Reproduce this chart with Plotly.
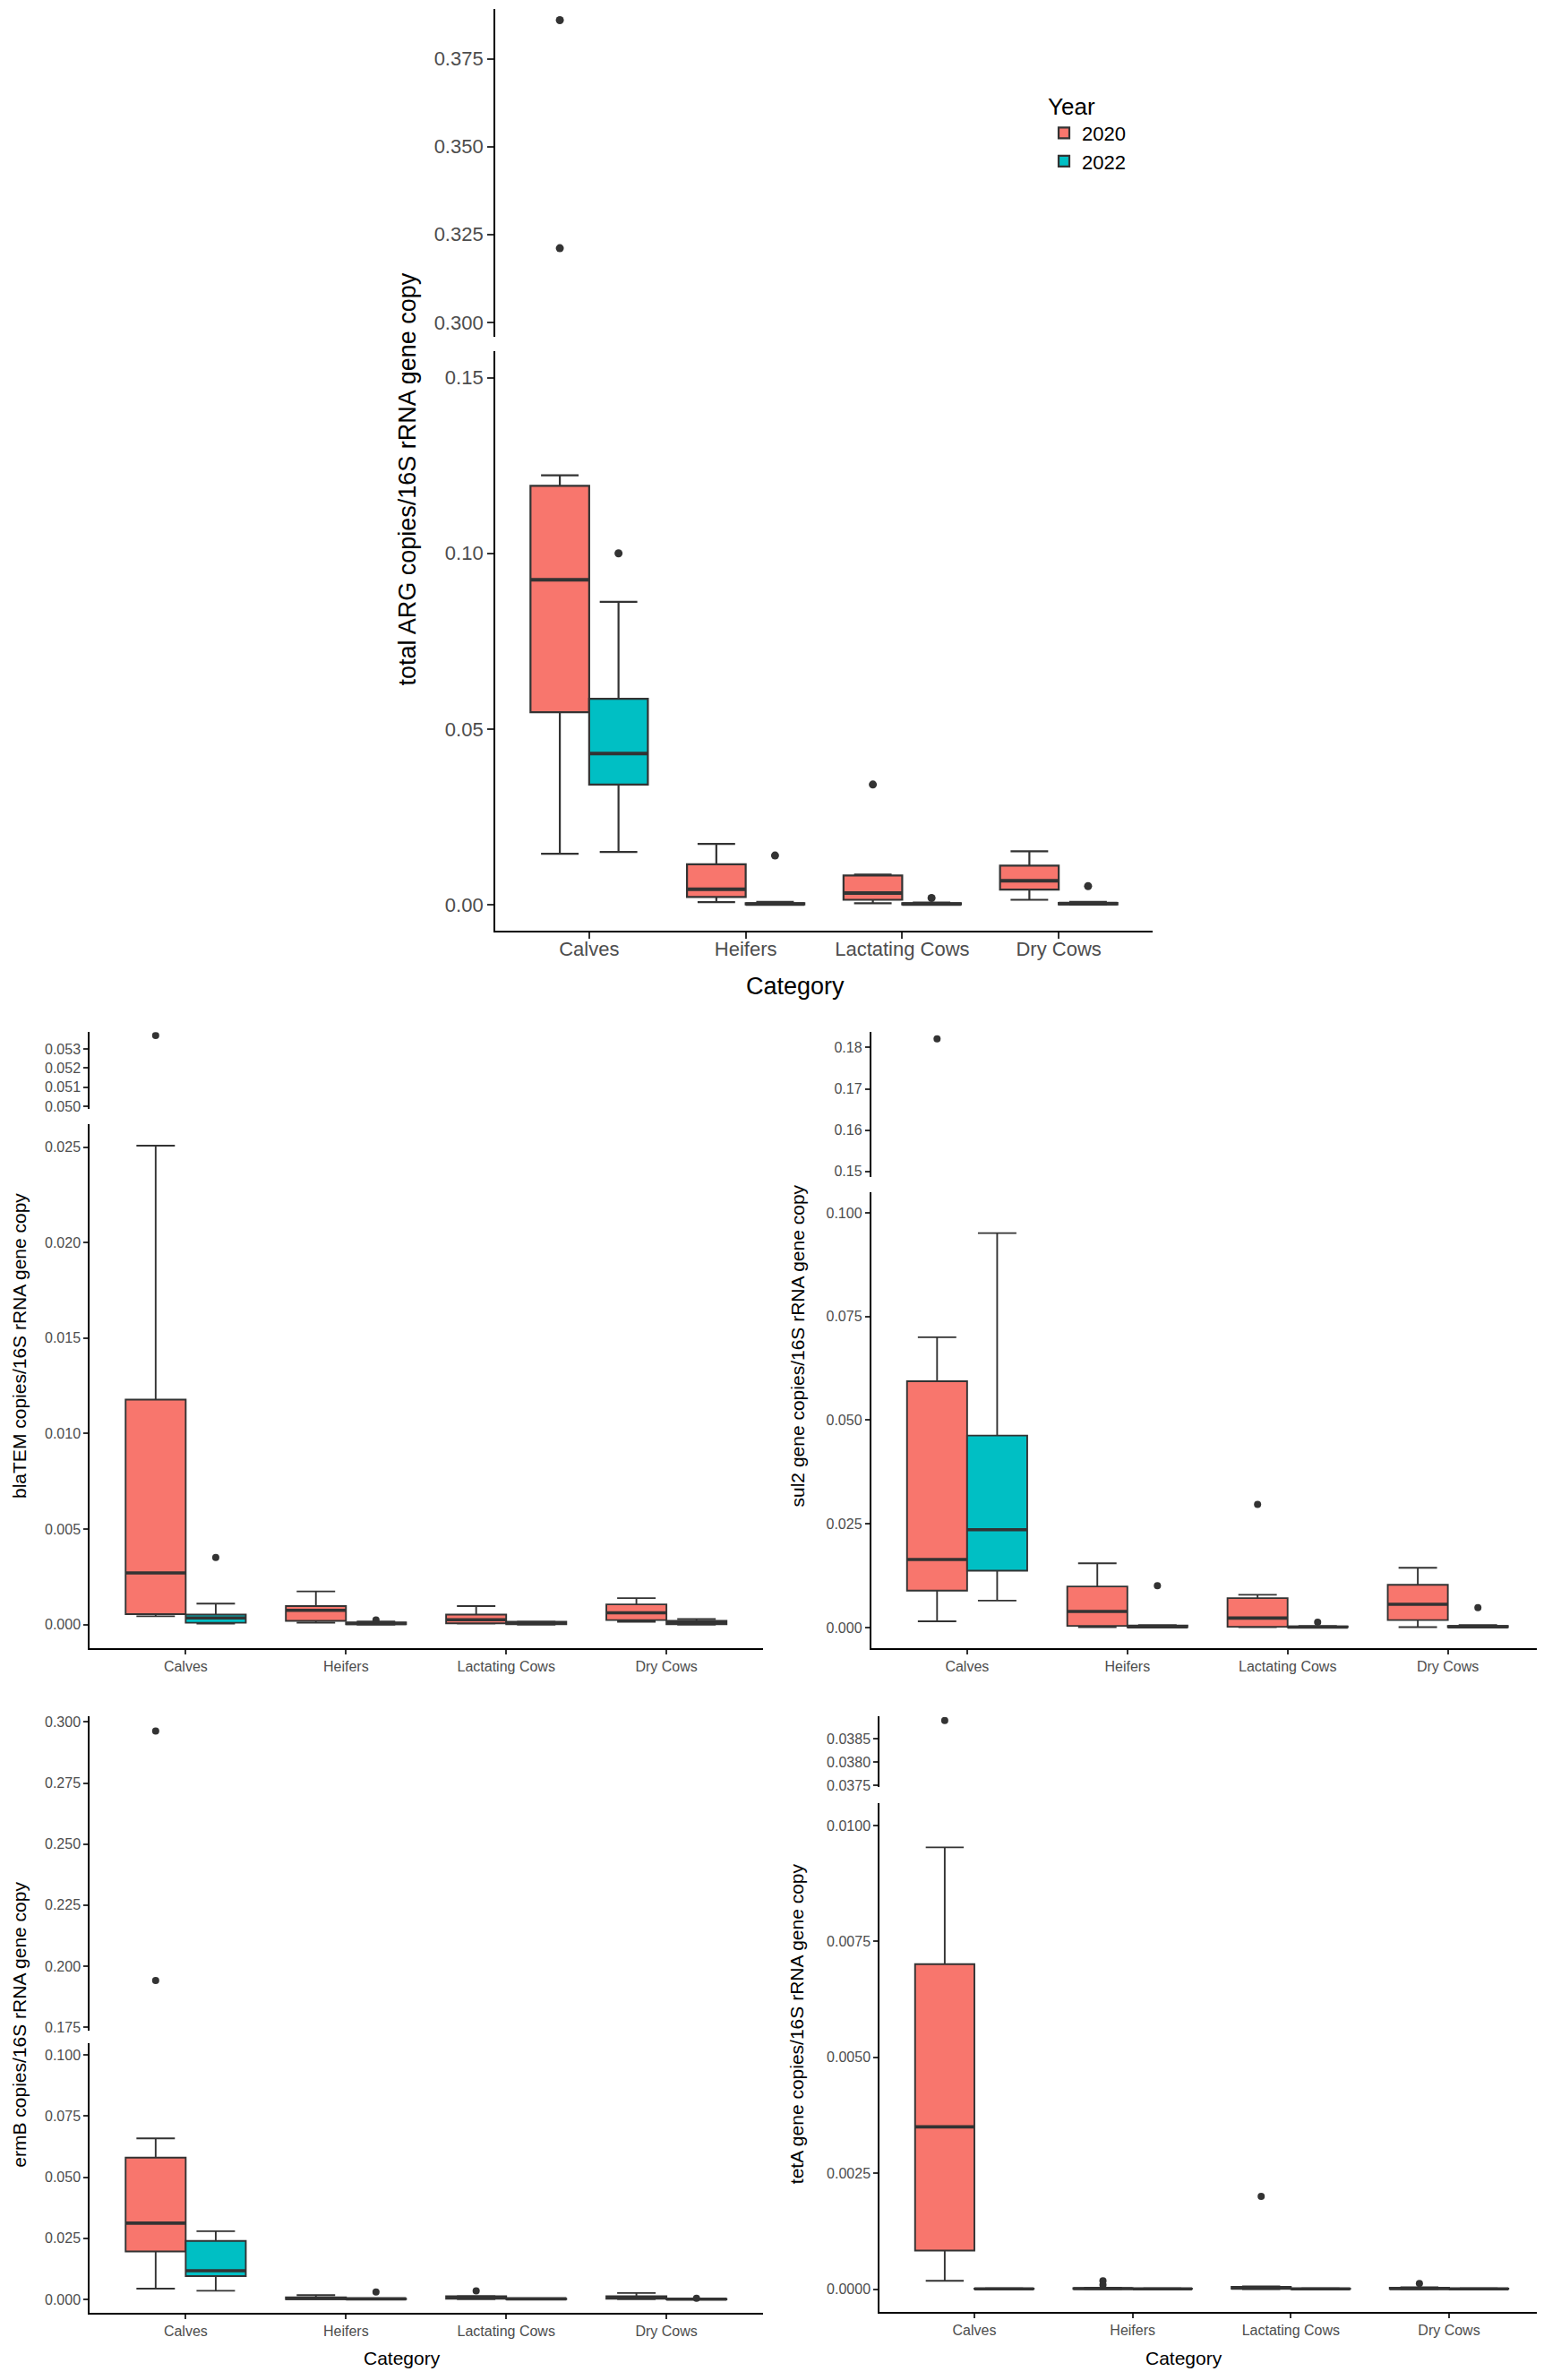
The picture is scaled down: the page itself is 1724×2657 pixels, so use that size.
import plotly.graph_objects as go

W, H = 1724, 2657
PAD = 8  # the page body margin that the browser adds around the figure

categories = ["Calves", "Heifers", "Lactating Cows", "Dry Cows"]
years = ["2020", "2022"]

# each box: lower whisker, Q1, median, Q3, upper whisker (one row per category)
total_2020 = [(0.0145, 0.0548, 0.0925, 0.1192, 0.1222),
              (0.00075, 0.0022, 0.0044, 0.0115, 0.0173),
              (0.0004, 0.0014, 0.0033, 0.0083, 0.0086),
              (0.0014, 0.0043, 0.0068, 0.0111, 0.0152)]
total_2022 = [(0.0150, 0.0342, 0.0430, 0.0586, 0.0862),
              (0.0, 0.0001, 0.0002, 0.0004, 0.0008),
              (0.0, 0.0001, 0.0002, 0.0004, 0.0006),
              (0.0, 0.0001, 0.0003, 0.0005, 0.0008)]
total_2020_out = [[0.386, 0.3211], [], [0.0342], []]
total_2022_out = [[0.100], [0.014], [0.0019], [0.0053]]

blatem_2020 = [(0.00044, 0.00055, 0.00271, 0.01178, 0.02507),
               (0.0001, 0.0002, 0.00075, 0.00097, 0.00174),
               (0.00005, 0.00007, 0.00026, 0.00053, 0.00097),
               (0.00015, 0.00024, 0.00062, 0.00106, 0.00139)]
blatem_2022 = [(0.00005, 0.0001, 0.00035, 0.00053, 0.0011),
               (0.0, 0.00002, 0.00006, 0.00012, 0.00016),
               (0.0, 0.00002, 0.00008, 0.00015, 0.00016),
               (0.0, 0.00002, 0.0001, 0.0002, 0.0003)]
blatem_2020_out = [[0.0537], [], [], []]
blatem_2022_out = [[0.00351], [0.00024], [], []]

sul2_2020 = [(0.0015, 0.0089, 0.0164, 0.0594, 0.0700),
             (0.0001, 0.0004, 0.0039, 0.0099, 0.0155),
             (0.0001, 0.0002, 0.0023, 0.0071, 0.0079),
             (0.0001, 0.0018, 0.0056, 0.0103, 0.0144)]
sul2_2022 = [(0.0065, 0.0137, 0.0236, 0.0463, 0.0951),
             (0.0, 0.0001, 0.0002, 0.0005, 0.0006),
             (0.0, 0.0001, 0.0001, 0.0003, 0.0004),
             (0.0, 0.0001, 0.0002, 0.0004, 0.0006)]
sul2_2020_out = [[0.1821], [], [0.0297], []]
sul2_2022_out = [[], [0.0101], [0.0013], [0.0048]]

ermb_2020 = [(0.0044, 0.0196, 0.0312, 0.0580, 0.0659),
             (0.0001, 0.0001, 0.0004, 0.0008, 0.0017),
             (0.0001, 0.0002, 0.0006, 0.0013, 0.0014),
             (0.0001, 0.0002, 0.0006, 0.0013, 0.0026)]
ermb_2022 = [(0.0035, 0.0095, 0.0117, 0.0239, 0.0279),
             (0.0, 0.0001, 0.0002, 0.0003, 0.0004),
             (0.0, 0.0001, 0.0002, 0.0003, 0.0004),
             (0.0, 0.0, 0.0001, 0.0002, 0.0002)]
ermb_2020_out = [[0.2963, 0.1941], [], [0.0035], []]
ermb_2022_out = [[], [0.0030], [], [0.0004]]

teta_2020 = [(0.00018, 0.00083, 0.0035, 0.00701, 0.00953),
             (0.0, 0.000005, 0.00001, 0.00002, 0.00003),
             (0.0, 0.00001, 0.00002, 0.00005, 0.00006),
             (0.0, 0.000005, 0.00001, 0.00003, 0.00004)]
teta_2022 = [(0.0, 0.000002, 0.000005, 0.00001, 0.000015),
             (0.0, 0.000002, 0.000005, 0.00001, 0.000015),
             (0.0, 0.000002, 0.000005, 0.00001, 0.000015),
             (0.0, 0.000002, 0.000005, 0.00001, 0.000015)]
teta_2020_out = [[0.03889], [0.00018, 0.00009], [0.0020], [0.00012]]
teta_2022_out = [[], [], [], []]

COLORS = {"2020": "#F8766D", "2022": "#00BFC4"}
EDGE = "#333333"
FONT = "Liberation Sans, Arial, sans-serif"
BOX_W = 0.375
OFFSET = 0.1875

FW, FH = W - PAD, H - PAD


def px_x(v):
    return min(max((v - PAD) / FW, 0.0), 1.0)


def px_y(v):
    return min(max(1 - (v - PAD) / FH, 0.0), 1.0)


# panel geometry in page pixels: x domain, lower/upper y segment (top px, bottom px, range), ticks
panels = [
    dict(data=(total_2020, total_2022, total_2020_out, total_2022_out),
         ytitle="total ARG copies/16S rRNA gene copy",
         xdom=(553, 1287),
         low=(391, 1040, [-0.00737, 0.1576], [0, 0.05, 0.10, 0.15], ".2f"),
         up=(8, 375, [0.2959, 0.3892], [0.300, 0.325, 0.350, 0.375], ".3f"),
         ytitle_pos=(455, 534), xtitle_pos=(888, 1102),
         tick=22, title=27, legend=True, standoff=-7),
    dict(data=(blatem_2020, blatem_2022, blatem_2020_out, blatem_2022_out),
         ytitle="blaTEM copies/16S rRNA gene copy",
         xdom=(100, 851.5),
         low=(1256.5, 1843.7, [-0.001239, 0.02621], [0, 0.005, 0.010, 0.015, 0.020, 0.025], ".3f"),
         up=(1153.6, 1239.5, [0.04987, 0.053883], [0.050, 0.051, 0.052, 0.053], ".3f"),
         ytitle_pos=(None, 1505), xtitle_pos=None,
         tick=16, title=21, legend=False, standoff=0),
    dict(data=(sul2_2020, sul2_2022, sul2_2020_out, sul2_2022_out),
         ytitle="sul2 gene copies/16S rRNA gene copy",
         xdom=(972.5, 1724),
         low=(1333, 1843.7, [-0.005, 0.10495], [0, 0.025, 0.050, 0.075, 0.100], ".3f"),
         up=(1153.6, 1316.4, [0.14857, 0.18376], [0.15, 0.16, 0.17, 0.18], ".2f"),
         ytitle_pos=(890, 1505), xtitle_pos=None,
         tick=16, title=21, legend=False, standoff=0),
    dict(data=(ermb_2020, ermb_2022, ermb_2020_out, ermb_2022_out),
         ytitle="ermB copies/16S rRNA gene copy",
         xdom=(100, 851.5),
         low=(2285.6, 2587.7, [-0.00548, 0.10493], [0, 0.025, 0.050, 0.075, 0.100], ".3f"),
         up=(1920.2, 2271.5, [0.17372, 0.30221], [0.175, 0.200, 0.225, 0.250, 0.275, 0.300], ".3f"),
         ytitle_pos=(None, 2265), xtitle_pos=(449, 2638),
         tick=16, title=21, legend=False, standoff=0),
    dict(data=(teta_2020, teta_2022, teta_2020_out, teta_2022_out),
         ytitle="tetA gene copies/16S rRNA gene copy",
         xdom=(982, 1724),
         low=(2016.6, 2586.8, [-0.000493, 0.010493], [0, 0.0025, 0.0050, 0.0075, 0.0100], ".4f"),
         up=(1920.2, 1999.5, [0.037452, 0.038971], [0.0375, 0.0380, 0.0385], ".4f"),
         ytitle_pos=(889, 2264), xtitle_pos=(1322, 2638),
         tick=16, title=21, legend=False, standoff=0),
]

fig = go.Figure()
layout = {}
annotations = []

for i, p in enumerate(panels):
    xn = "" if i == 0 else str(i + 1)
    ylo_n = "" if i == 0 else str(2 * i + 1)
    yup_n = str(2 * i + 2)
    xa, ylo, yup = "x" + xn, "y" + ylo_n, "y" + yup_n
    big = p["tick"] > 20
    lw = 1.8 if big else 1.5
    tl = 7 if big else 5

    split = p["low"][2][1]
    for year, stats, outs in zip(years, p["data"][:2], p["data"][2:]):
        shift = -OFFSET if year == "2020" else OFFSET
        pos = [k + 1 + shift for k in range(len(categories))]
        lo, q1, med, q3, hi = zip(*stats)
        fig.add_trace(go.Box(
            x=pos, lowerfence=lo, q1=q1, median=med, q3=q3, upperfence=hi,
            width=BOX_W, whiskerwidth=0.64, boxpoints=False,
            fillcolor=COLORS[year], line=dict(color=EDGE, width=2.2 if big else 1.9),
            name=year, legendgroup=year, showlegend=p["legend"],
            hoverinfo="skip", xaxis=xa, yaxis=ylo,
        ))
        # thicker median bar, as ggplot draws it
        mx, my = [], []
        for xp, m in zip(pos, med):
            mx += [xp - BOX_W / 2, xp + BOX_W / 2, None]
            my += [m, m, None]
        fig.add_trace(go.Scatter(
            x=mx, y=my, mode="lines", line=dict(color=EDGE, width=4 if big else 3.6),
            showlegend=False, hoverinfo="skip", xaxis=xa, yaxis=ylo,
        ))
        for target, keep in ((ylo, lambda v: v <= split), (yup, lambda v: v > split)):
            ox, oy = [], []
            for xp, vals in zip(pos, outs):
                for v in vals:
                    if keep(v):
                        ox.append(xp)
                        oy.append(v)
            if ox:
                fig.add_trace(go.Scatter(
                    x=ox, y=oy, mode="markers",
                    marker=dict(color=EDGE, size=9 if big else 8),
                    showlegend=False, hoverinfo="skip", xaxis=xa, yaxis=target,
                ))

    layout["xaxis" + xn] = dict(
        domain=[px_x(p["xdom"][0]), px_x(p["xdom"][1])],
        anchor=ylo, range=[0.4, 4.6],
        tickvals=[1, 2, 3, 4], ticktext=categories,
        showline=True, linecolor="black", linewidth=lw,
        ticks="outside", ticklen=tl, tickwidth=lw, tickcolor=EDGE,
        ticklabelstandoff=p["standoff"],
        tickfont=dict(size=p["tick"], color="#4D4D4D", family=FONT),
        showgrid=False, zeroline=False,
    )
    for name, seg in (("yaxis" + ylo_n, p["low"]), ("yaxis" + yup_n, p["up"])):
        top, bot, rng, tv, fmt = seg
        layout[name] = dict(
            domain=[px_y(bot), px_y(top)], anchor=xa, range=rng,
            tickvals=tv, tickformat=fmt,
            showline=True, linecolor="black", linewidth=lw,
            ticks="outside", ticklen=tl, tickwidth=lw, tickcolor=EDGE,
            tickfont=dict(size=p["tick"], color="#4D4D4D", family=FONT),
            showgrid=False, zeroline=False,
        )

    cx, cy = p["ytitle_pos"]
    annotations.append(dict(
        text=p["ytitle"], x=0 if cx is None else px_x(cx), y=px_y(cy),
        xref="paper", yref="paper", textangle=-90, showarrow=False,
        xanchor="left" if cx is None else "center", yanchor="middle",
        font=dict(size=p["title"], color="black", family=FONT),
    ))
    if p["xtitle_pos"]:
        tx, ty = p["xtitle_pos"]
        annotations.append(dict(
            text="Category", x=px_x(tx), y=px_y(ty), xref="paper", yref="paper",
            showarrow=False, xanchor="center", yanchor="middle",
            font=dict(size=p["title"], color="black", family=FONT),
        ))

fig.update_layout(
    **layout,
    annotations=annotations,
    width=FW, height=FH,
    margin=dict(l=0, r=0, t=0, b=0),
    plot_bgcolor="white", paper_bgcolor="white",
    font=dict(family=FONT, color="black"),
    showlegend=True,
    legend=dict(
        title=dict(text="Year", font=dict(size=26, family=FONT)),
        font=dict(size=22, family=FONT),
        x=px_x(1168), y=px_y(92), xanchor="left", yanchor="top",
        bgcolor="rgba(0,0,0,0)", tracegroupgap=0,
    ),
)

fig.write_html("out.html")
